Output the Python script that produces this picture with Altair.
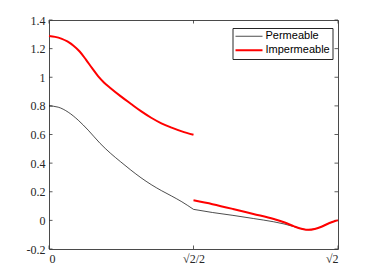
import math
import altair as alt
import pandas as pd

SQ2 = math.sqrt(2)
HALF = SQ2 / 2

# Permeable (black, thin) - two pieces meeting at sqrt(2)/2
perm_x1 = [0.0, 0.045, 0.094, 0.143, 0.192, 0.25, 0.30, 0.35, 0.40, 0.45, 0.50, 0.55, 0.60, 0.65, HALF]
perm_y1 = [0.80, 0.791, 0.756, 0.70, 0.63, 0.538, 0.47, 0.41, 0.352, 0.298, 0.25, 0.208, 0.17, 0.13, 0.077]
perm_x2 = [HALF, 0.80, 0.90, 1.0, 1.1, 1.15, 1.2, 1.24, 1.27, 1.30, 1.33, 1.37, 1.40, SQ2]
perm_y2 = [0.077, 0.055, 0.035, 0.013, -0.01, -0.025, -0.044, -0.06, -0.066, -0.06, -0.046, -0.02, -0.004, 0.0]

# Impermeable (red, thick) - discontinuous at sqrt(2)/2
imp_x1 = [0.0, 0.03, 0.06, 0.09, 0.12, 0.15, 0.18, 0.21, 0.24, 0.27, 0.30, 0.35, 0.40, 0.45, 0.50, 0.55, 0.60, 0.65, HALF]
imp_y1 = [1.288, 1.282, 1.27, 1.25, 1.22, 1.18, 1.125, 1.065, 1.008, 0.962, 0.925, 0.868, 0.815, 0.763, 0.717, 0.678, 0.648, 0.622, 0.598]
imp_x2 = [HALF, 0.80, 0.90, 1.0, 1.1, 1.15, 1.2, 1.24, 1.27, 1.30, 1.33, 1.37, 1.40, SQ2]
imp_y2 = [0.14, 0.113, 0.08, 0.045, 0.01, -0.013, -0.042, -0.06, -0.066, -0.06, -0.046, -0.02, -0.004, 0.0]

series_names = ["Permeable", "Impermeable"]
series_colors = ["#000000", "#ff0000"]
series_widths = [0.7, 2.0]

y_ticks = [-0.2, 0, 0.2, 0.4, 0.6, 0.8, 1.0, 1.2, 1.4]
x_ticks = [0, HALF, SQ2]
x_labels = ["0", "√2/2", "√2"]

rows = []
for xs, ys, name, seg in [
    (perm_x1, perm_y1, "Permeable", "p1"),
    (perm_x2, perm_y2, "Permeable", "p2"),
    (imp_x1, imp_y1, "Impermeable", "i1"),
    (imp_x2, imp_y2, "Impermeable", "i2"),
]:
    for i, (a, b) in enumerate(zip(xs, ys)):
        rows.append({"x": a, "y": b, "series": name, "seg": seg, "i": i})
df = pd.DataFrame(rows)

W, H = 289, 229
TL = 3.5
AX = "#333333"

x_label_expr = (
    f"datum.value < 0.1 ? '{x_labels[0]}' : (datum.value < 1 ? '{x_labels[1]}' : '{x_labels[2]}')"
)
y_label_expr = "datum.value == 0 ? '0' : '' + round(datum.value * 10) / 10"

xscale = alt.Scale(domain=[0, SQ2], nice=False, zero=False)
yscale = alt.Scale(domain=[-0.2, 1.4], nice=False, zero=False)


def xaxis():
    return alt.Axis(values=x_ticks, labelExpr=x_label_expr, labelPadding=4, grid=False, title=None)


def yaxis():
    return alt.Axis(values=y_ticks, labelExpr=y_label_expr, labelPadding=4, grid=False, title=None)


leg = alt.Legend(
    title=None,
    orient="none",
    legendX=183.5,
    legendY=8,
    direction="vertical",
    symbolType="stroke",
    symbolSize=729,
    clipHeight=12.5,
    rowPadding=1,
    padding=2,
    strokeColor="#262626",
    fillColor="white",
    labelFont="Liberation Sans",
    labelFontSize=11,
    labelColor="#000000",
    labelOffset=2,
    cornerRadius=0,
)

lines = alt.Chart(df).mark_line(interpolate="monotone").encode(
    x=alt.X("x:Q", scale=xscale, axis=xaxis()),
    y=alt.Y("y:Q", scale=yscale, axis=yaxis()),
    color=alt.Color("series:N", scale=alt.Scale(domain=series_names, range=series_colors), legend=leg),
    strokeWidth=alt.StrokeWidth("series:N", scale=alt.Scale(domain=series_names, range=series_widths), legend=leg),
    detail="seg:N",
    order="i:Q",
)

ytick_df = pd.DataFrame({"v": y_ticks})
xtick_df = pd.DataFrame({"v": x_ticks})

lt = alt.Chart(ytick_df).mark_rule(color=AX, strokeWidth=0.8).encode(
    y=alt.Y("v:Q", scale=yscale, axis=yaxis()), x=alt.value(0), x2=alt.value(TL))
rt = alt.Chart(ytick_df).mark_rule(color=AX, strokeWidth=0.8).encode(
    y=alt.Y("v:Q", scale=yscale, axis=yaxis()), x=alt.value(W), x2=alt.value(W - TL))
bt = alt.Chart(xtick_df).mark_rule(color=AX, strokeWidth=0.8).encode(
    x=alt.X("v:Q", scale=xscale, axis=xaxis()), y=alt.value(H), y2=alt.value(H - TL))
tt = alt.Chart(xtick_df).mark_rule(color=AX, strokeWidth=0.8).encode(
    x=alt.X("v:Q", scale=xscale, axis=xaxis()), y=alt.value(0), y2=alt.value(TL))

chart = alt.layer(lt, rt, bt, tt, lines).properties(
    width=W, height=H,
    autosize=alt.AutoSizeParams(type="none"),
    padding={"left": 41, "top": 12, "right": 20, "bottom": 24},
).configure_view(
    stroke="#4a4a4a", strokeWidth=1
).configure_axis(
    domain=False, ticks=False,
    labelFont="Liberation Serif", labelFontSize=12, labelColor="#262626",
)

chart.save("out.html", embed_options={"renderer": "svg", "actions": False})
